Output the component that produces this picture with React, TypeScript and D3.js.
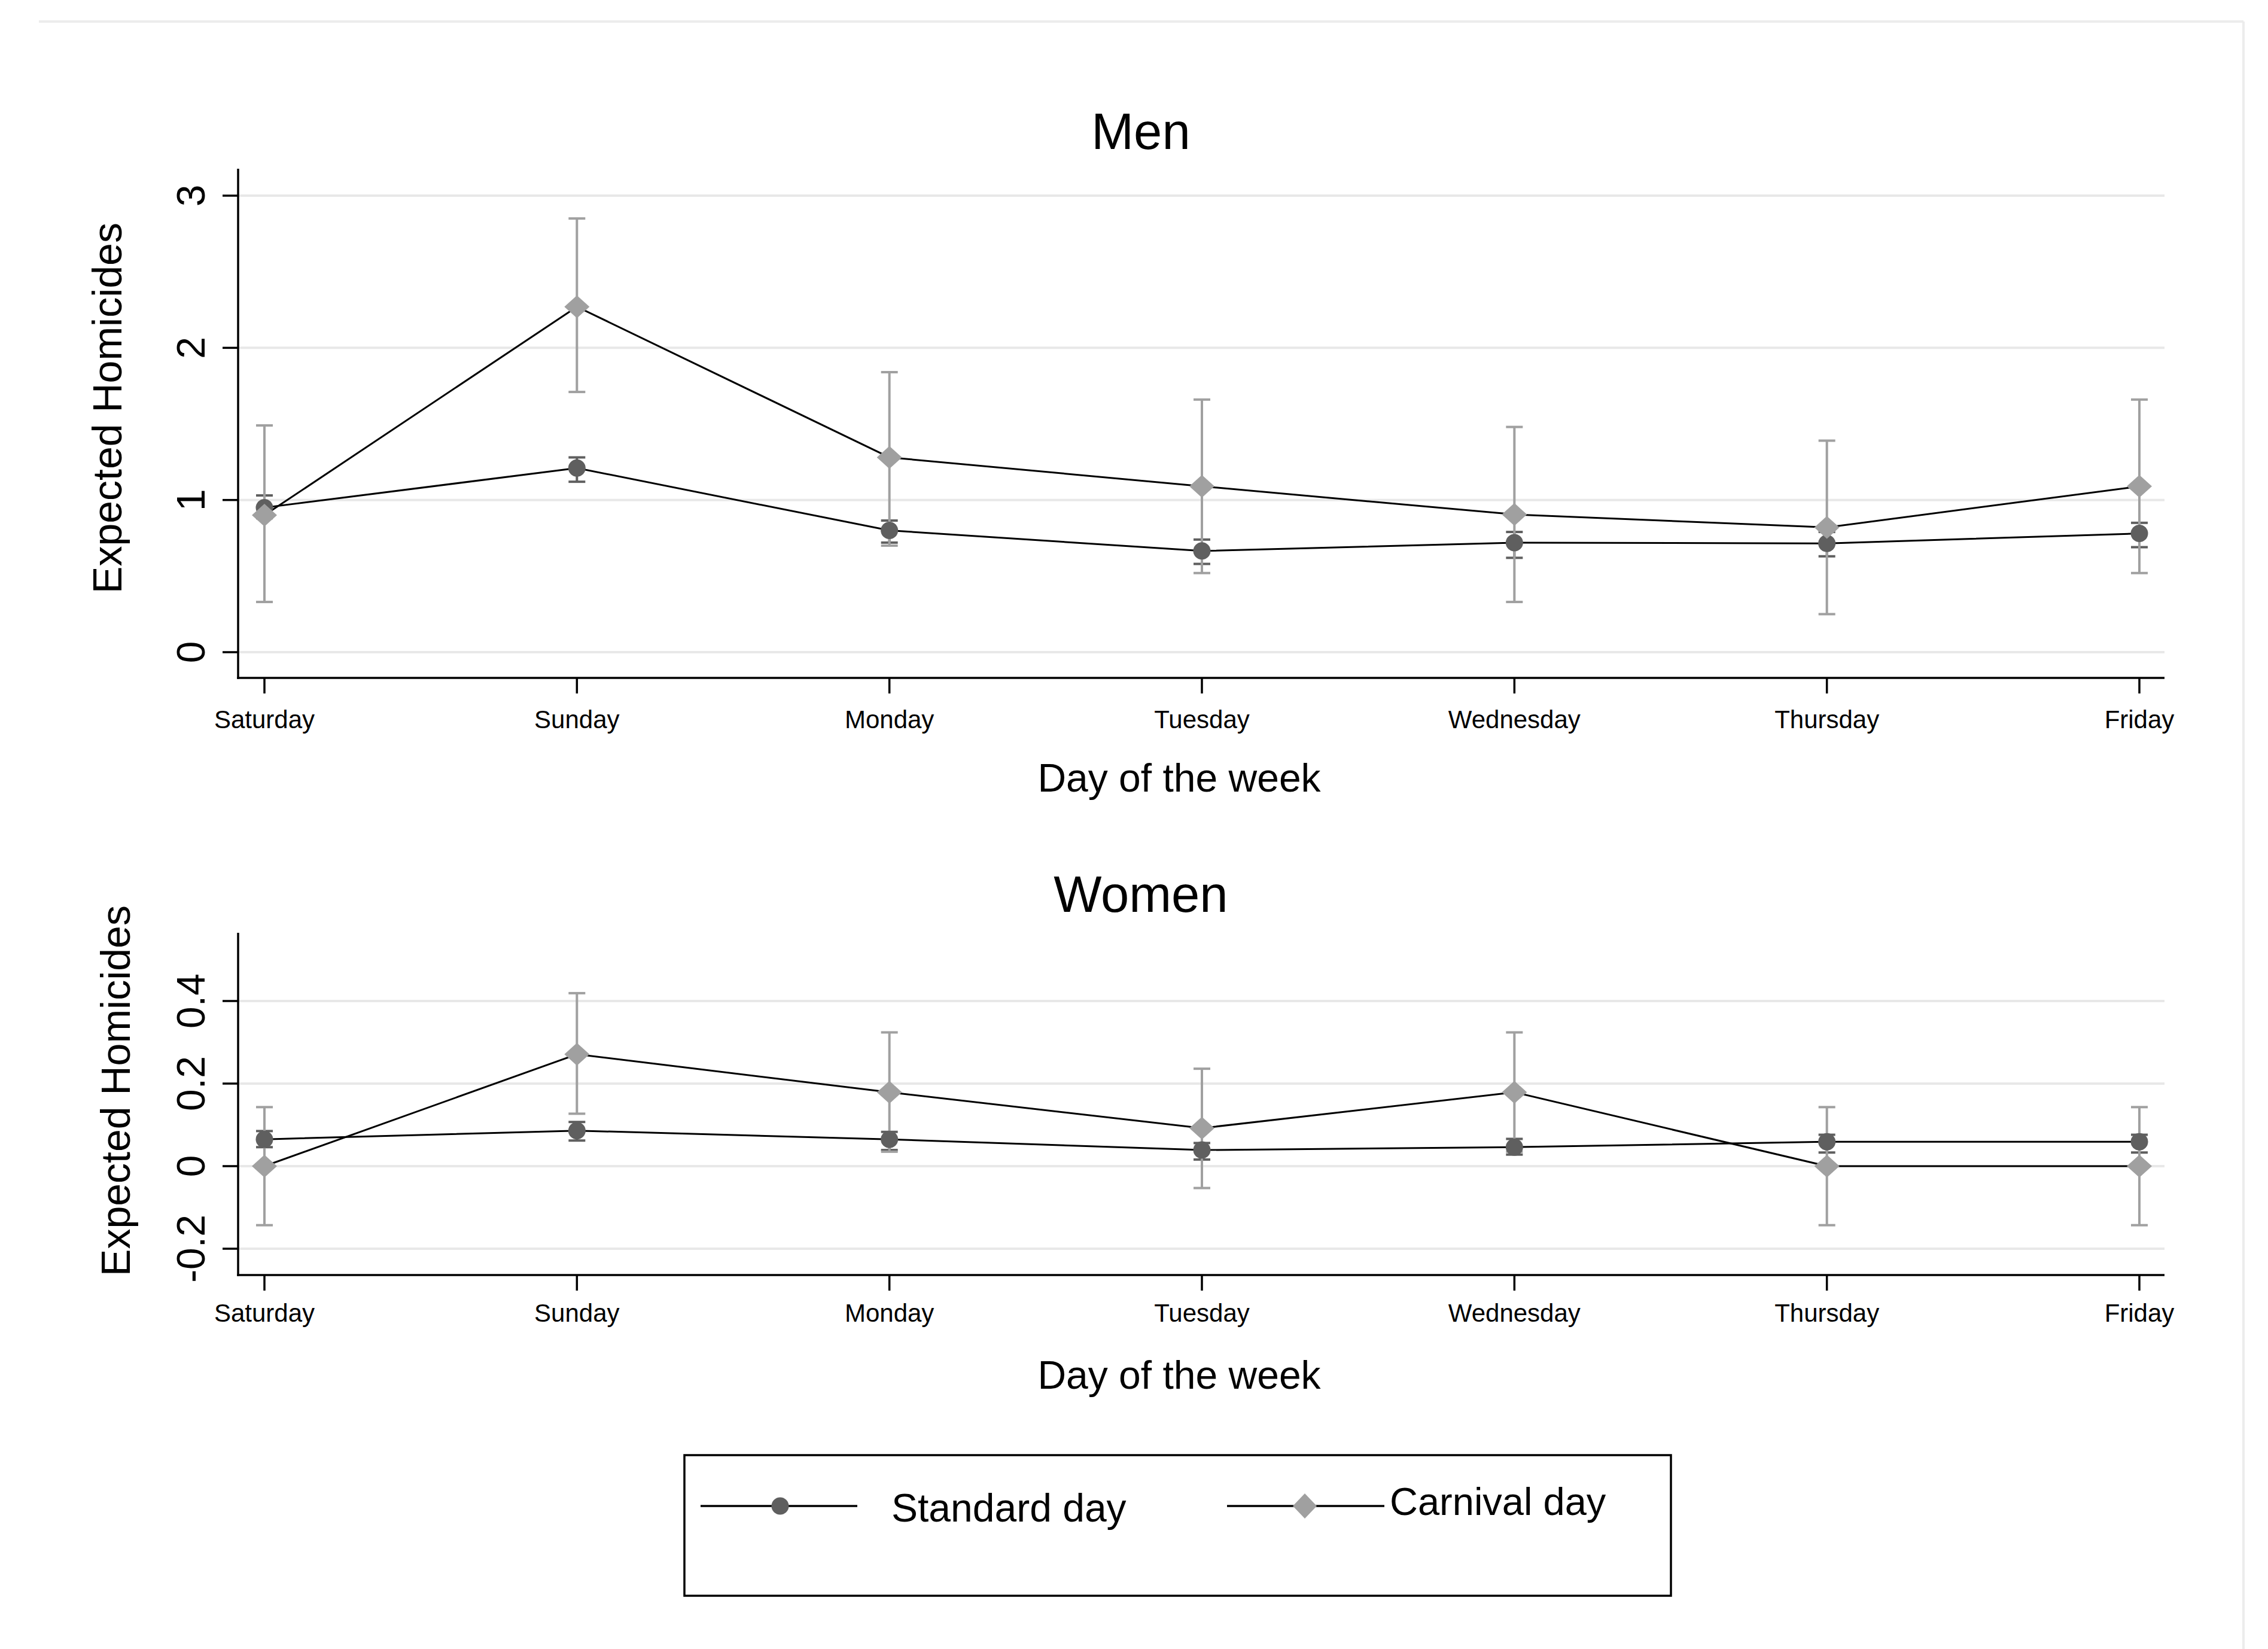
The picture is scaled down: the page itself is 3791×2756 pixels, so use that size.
import React from 'react';
import * as d3 from 'd3';

const days = ['Saturday', 'Sunday', 'Monday', 'Tuesday', 'Wednesday', 'Thursday', 'Friday'];

const menStd = [0.95, 1.21, 0.8, 0.665, 0.72, 0.715, 0.78];
const menStdLo = [0.88, 1.12, 0.72, 0.58, 0.62, 0.63, 0.69];
const menStdHi = [1.03, 1.28, 0.865, 0.74, 0.79, 0.79, 0.85];
const menCar = [0.9, 2.27, 1.28, 1.09, 0.905, 0.82, 1.09];
const menCarLo = [0.33, 1.71, 0.7, 0.52, 0.33, 0.25, 0.52];
const menCarHi = [1.49, 2.85, 1.84, 1.66, 1.48, 1.39, 1.66];

const womenStd = [0.065, 0.086, 0.065, 0.039, 0.046, 0.059, 0.059];
const womenStdLo = [0.046, 0.062, 0.039, 0.016, 0.028, 0.033, 0.033];
const womenStdHi = [0.085, 0.107, 0.083, 0.056, 0.066, 0.076, 0.076];
const womenCar = [0, 0.271, 0.179, 0.092, 0.179, 0, 0];
const womenCarLo = [-0.143, 0.127, 0.035, -0.053, 0.035, -0.143, -0.143];
const womenCarHi = [0.143, 0.419, 0.324, 0.236, 0.324, 0.143, 0.143];

const menTicks = [0, 1, 2, 3];
const womenTicks = [-0.2, 0, 0.2, 0.4];

const FONT = '"Liberation Sans", Arial, Helvetica, sans-serif';
const STD_COLOR = '#5f5f5f';
const CAR_COLOR = '#a0a0a0';
const GRID = '#e8e8e8';

const W = 3791;
const H = 2756;

const x = d3.scalePoint<string>().domain(days).range([442, 3576]);
const PLOT_L = 398;
const PLOT_R = 3618;

function diamondPath(cx: number, cy: number, hw: number, hh: number) {
  return `M${cx},${cy - hh}L${cx + hw},${cy}L${cx},${cy + hh}L${cx - hw},${cy}Z`;
}

type PanelProps = {
  title: string;
  titleY: number;
  top: number;
  bottom: number;
  y: d3.ScaleLinear<number, number>;
  ticks: number[];
  tickFmt: (v: number) => string;
  std: number[];
  stdLo: number[];
  stdHi: number[];
  car: number[];
  carLo: number[];
  carHi: number[];
  yTitleX: number;
  yTitleY: number;
  xLabelY: number;
  xTitleY: number;
};

function Panel(p: PanelProps) {
  const line = d3
    .line<number>()
    .x((_, i) => x(days[i]) as number)
    .y((v) => p.y(v));
  const cap = 14;
  return (
    <g>
      <text x={1907} y={p.titleY} fontSize={85} fontFamily={FONT} textAnchor="middle" fill="#000">
        {p.title}
      </text>
      {p.ticks.map((t) => (
        <line key={'g' + t} x1={PLOT_L} x2={PLOT_R} y1={p.y(t)} y2={p.y(t)} stroke={GRID} strokeWidth={4} />
      ))}
      {/* axes */}
      <line x1={PLOT_L} x2={PLOT_L} y1={p.top} y2={p.bottom + 1.75} stroke="#000" strokeWidth={3.5} />
      <line x1={PLOT_L - 1.75} x2={PLOT_R} y1={p.bottom} y2={p.bottom} stroke="#000" strokeWidth={3.5} />
      {p.ticks.map((t) => (
        <g key={'t' + t}>
          <line x1={PLOT_L - 26} x2={PLOT_L} y1={p.y(t)} y2={p.y(t)} stroke="#000" strokeWidth={3.5} />
          <text
            transform={`translate(342,${p.y(t)}) rotate(-90)`}
            fontSize={66}
            fontFamily={FONT}
            textAnchor="middle"
            fill="#000"
          >
            {p.tickFmt(t)}
          </text>
        </g>
      ))}
      {days.map((d) => (
        <g key={'x' + d}>
          <line x1={x(d)} x2={x(d)} y1={p.bottom} y2={p.bottom + 26} stroke="#000" strokeWidth={3.5} />
          <text x={x(d)} y={p.xLabelY} fontSize={42} fontFamily={FONT} textAnchor="middle" fill="#000">
            {d}
          </text>
        </g>
      ))}
      <text x={1971} y={p.xTitleY} fontSize={66} fontFamily={FONT} textAnchor="middle" fill="#000">
        Day of the week
      </text>
      <text
        transform={`translate(${p.yTitleX},${p.yTitleY}) rotate(-90)`}
        fontSize={68}
        fontFamily={FONT}
        textAnchor="middle"
        fill="#000"
      >
        Expected Homicides
      </text>
      {/* connecting lines */}
      <path d={line(p.std) || ''} fill="none" stroke="#000" strokeWidth={3} />
      <path d={line(p.car) || ''} fill="none" stroke="#000" strokeWidth={3} />
      {/* CIs */}
      {days.map((d, i) => {
        const cx = x(d) as number;
        return (
          <g key={'ci' + d}>
            <line x1={cx} x2={cx} y1={p.y(p.stdLo[i])} y2={p.y(p.stdHi[i])} stroke={STD_COLOR} strokeWidth={4} />
            <line x1={cx - cap} x2={cx + cap} y1={p.y(p.stdLo[i])} y2={p.y(p.stdLo[i])} stroke={STD_COLOR} strokeWidth={4} />
            <line x1={cx - cap} x2={cx + cap} y1={p.y(p.stdHi[i])} y2={p.y(p.stdHi[i])} stroke={STD_COLOR} strokeWidth={4} />
            <line x1={cx} x2={cx} y1={p.y(p.carLo[i])} y2={p.y(p.carHi[i])} stroke={CAR_COLOR} strokeWidth={4} />
            <line x1={cx - cap} x2={cx + cap} y1={p.y(p.carLo[i])} y2={p.y(p.carLo[i])} stroke={CAR_COLOR} strokeWidth={4} />
            <line x1={cx - cap} x2={cx + cap} y1={p.y(p.carHi[i])} y2={p.y(p.carHi[i])} stroke={CAR_COLOR} strokeWidth={4} />
          </g>
        );
      })}
      {/* markers */}
      {days.map((d, i) => (
        <circle key={'ms' + d} cx={x(d)} cy={p.y(p.std[i])} r={14.5} fill={STD_COLOR} />
      ))}
      {days.map((d, i) => (
        <path key={'mc' + d} d={diamondPath(x(d) as number, p.y(p.car[i]), 21, 19)} fill={CAR_COLOR} />
      ))}
    </g>
  );
}

export default function App() {
  const yMen = d3.scaleLinear().domain([0, 3]).range([1090, 327]);
  const yWomen = d3.scaleLinear().domain([-0.2, 0.4]).range([2087, 1673]);
  const fmtMen = (v: number) => d3.format('d')(v);
  const fmtWomen = (v: number) => (v === 0 ? '0' : d3.format('.1f')(v).replace('−', '-'));
  return (
    <svg
      width={W}
      height={H}
      viewBox={`0 0 ${W} ${H}`}
      style={{ position: 'absolute', left: 0, top: 0, background: '#fff', display: 'block' }}
    >
      <rect x={0} y={0} width={W} height={H} fill="#fff" />
      {/* outer light frame */}
      <line x1={65} x2={3750} y1={36} y2={36} stroke="#ececec" strokeWidth={4} />
      <line x1={3750} x2={3750} y1={36} y2={H} stroke="#ececec" strokeWidth={4} />

      <Panel
        title="Men"
        titleY={249}
        top={282}
        bottom={1133}
        y={yMen}
        ticks={menTicks}
        tickFmt={fmtMen}
        std={menStd}
        stdLo={menStdLo}
        stdHi={menStdHi}
        car={menCar}
        carLo={menCarLo}
        carHi={menCarHi}
        yTitleX={203}
        yTitleY={682}
        xLabelY={1217}
        xTitleY={1323}
      />
      <Panel
        title="Women"
        titleY={1524}
        top={1559}
        bottom={2131}
        y={yWomen}
        ticks={womenTicks}
        tickFmt={fmtWomen}
        std={womenStd}
        stdLo={womenStdLo}
        stdHi={womenStdHi}
        car={womenCar}
        carLo={womenCarLo}
        carHi={womenCarHi}
        yTitleX={217}
        yTitleY={1823}
        xLabelY={2209}
        xTitleY={2321}
      />

      {/* legend */}
      <rect x={1144} y={2432} width={1649} height={235} fill="#fff" stroke="#000" strokeWidth={3.5} />
      <line x1={1171} x2={1433} y1={2517} y2={2517} stroke="#000" strokeWidth={3.5} />
      <circle cx={1304} cy={2517} r={14.5} fill={STD_COLOR} />
      <text x={1490} y={2543} fontSize={66} fontFamily={FONT} fill="#000">
        Standard day
      </text>
      <line x1={2051} x2={2314} y1={2517} y2={2517} stroke="#000" strokeWidth={3.5} />
      <path d={diamondPath(2181, 2517, 20, 21)} fill={CAR_COLOR} />
      <text x={2323} y={2532} fontSize={65} fontFamily={FONT} fill="#000">
        Carnival day
      </text>
    </svg>
  );
}
